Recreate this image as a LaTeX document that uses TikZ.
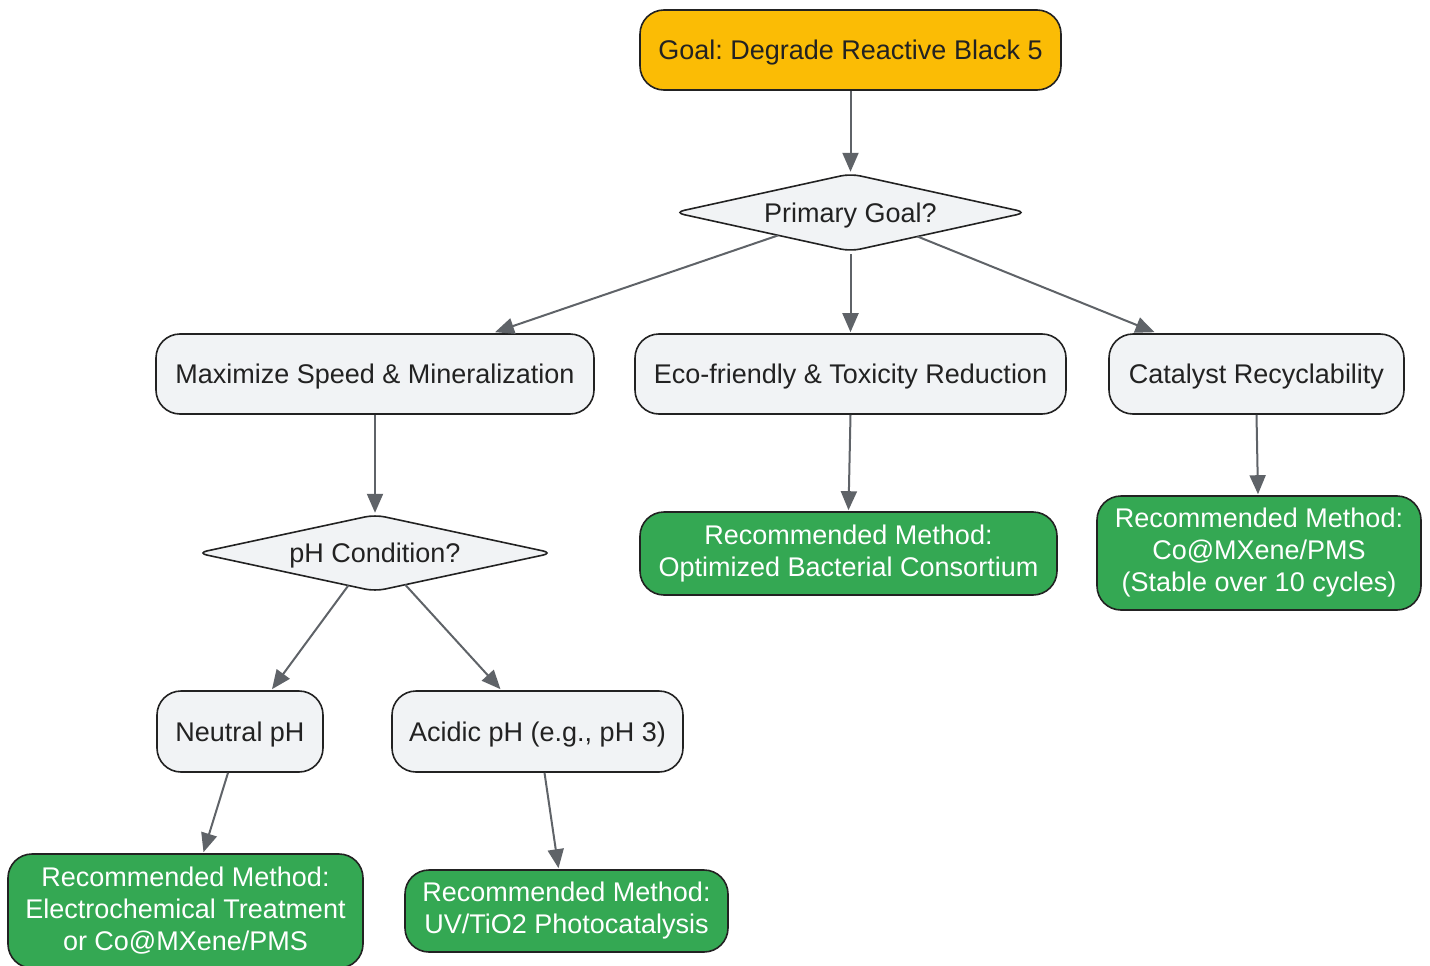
\documentclass[tikz,border=0pt]{standalone}
\usepackage{fontspec}
\setmainfont{Liberation Sans}
\frenchspacing
\usetikzlibrary{arrows.meta,calc,backgrounds}
\definecolor{gold}{HTML}{FBBC05}
\definecolor{green}{HTML}{34A853}
\definecolor{lightgray}{HTML}{F1F3F5}
\definecolor{stroke}{HTML}{222222}
\definecolor{arrowc}{HTML}{5F6368}
\definecolor{txt}{HTML}{222222}
\tikzset{
  box/.style={draw=stroke, line width=1.6pt, rounded corners=24pt, align=center, inner sep=0pt, text=txt, font=\fontsize{27}{32}\selectfont},
  oneline/.style={text height=19.5pt, text depth=0pt},
  graybox/.style={box, fill=lightgray},
  goldbox/.style={box, fill=gold},
  greenbox/.style={box, fill=green, text=white},
  decision/.style={inner sep=0pt, text=txt, font=\fontsize{27}{32}\selectfont, oneline},
  decisionshape/.style={draw=stroke, line width=1.6pt, fill=lightgray, rounded corners=10pt},
  conn/.style={draw=arrowc, line width=2pt, -{Triangle[length=19pt,width=16pt]}},
}
\begin{document}
\begin{tikzpicture}[x=1pt,y=-1pt]
\useasboundingbox (0,0) rectangle (1430,966);
\node[goldbox, oneline, minimum width=421pt, minimum height=80pt] (goal) at (850.5,50) {Goal: Degrade Reactive Black 5};
\node[decision, minimum width=352pt, minimum height=77pt] (primary) at (850.5,212.5) {Primary Goal?};
\node[graybox, oneline, minimum width=438pt, minimum height=80pt] (speed) at (375,374) {Maximize Speed \& Mineralization};
\node[graybox, oneline, minimum width=431pt, minimum height=80pt] (eco) at (850.5,374) {Eco-friendly \& Toxicity Reduction};
\node[graybox, oneline, minimum width=295pt, minimum height=80pt] (cat) at (1256.5,374) {Catalyst Recyclability};
\node[decision, minimum width=355pt, minimum height=76pt] (ph) at (375,553) {pH Condition?};
\node[greenbox, minimum width=417pt, minimum height=83pt] (receco) at (848.5,553.5) {Recommended Method:\\Optimized Bacterial Consortium};
\node[greenbox, minimum width=324pt, minimum height=114pt] (reccat) at (1259,553) {Recommended Method:\\Co@MXene/PMS\\(Stable over 10 cycles)};
\node[graybox, oneline, minimum width=166pt, minimum height=81pt] (neutral) at (240,731.5) {Neutral pH};
\node[graybox, oneline, minimum width=291pt, minimum height=81pt] (acidic) at (537.5,731.5) {Acidic pH (e.g., pH 3)};
\node[greenbox, minimum width=355pt, minimum height=114pt] (recneutral) at (185.5,911) {Recommended Method:\\Electrochemical Treatment\\or Co@MXene/PMS};
\node[greenbox, minimum width=323pt, minimum height=82pt] (recacid) at (566.5,911) {Recommended Method:\\UV/TiO2 Photocatalysis};

\begin{scope}[on background layer]
\draw[decisionshape] (primary.west) -- (primary.north) -- (primary.east) -- (primary.south) -- cycle;
\draw[decisionshape] (ph.west) -- (ph.north) -- (ph.east) -- (ph.south) -- cycle;
\end{scope}

\draw[conn] (goal.south) -- ($(primary.north)+(0,-2)$);
\draw[conn] ($(primary.west)!0.59!(primary.south)$) -- ($(speed.north)+(120,-1)$);
\draw[conn] ($(primary.south)+(0,3)$) -- ($(eco.north)+(0,-1)$);
\draw[conn] ($(primary.east)!0.62!(primary.south)$) -- ($(cat.north)+(-102,-1)$);
\draw[conn] (speed.south) -- ($(ph.north)+(0,-2)$);
\draw[conn] (eco.south) -- ($(receco.north)+(0,-1)$);
\draw[conn] (cat.south) -- ($(reccat.north)+(-1,-1)$);
\draw[conn] ($(ph.west)!0.85!(ph.south)$) -- ($(neutral.north)+(32,-1)$);
\draw[conn] ($(ph.east)!0.83!(ph.south)$) -- ($(acidic.north)+(-37,-1)$);
\draw[conn] ($(neutral.south)+(-12,0)$) -- ($(recneutral.north)+(18,-1)$);
\draw[conn] ($(acidic.south)+(7,0)$) -- ($(recacid.north)+(-8,-1)$);
\end{tikzpicture}
\end{document}
